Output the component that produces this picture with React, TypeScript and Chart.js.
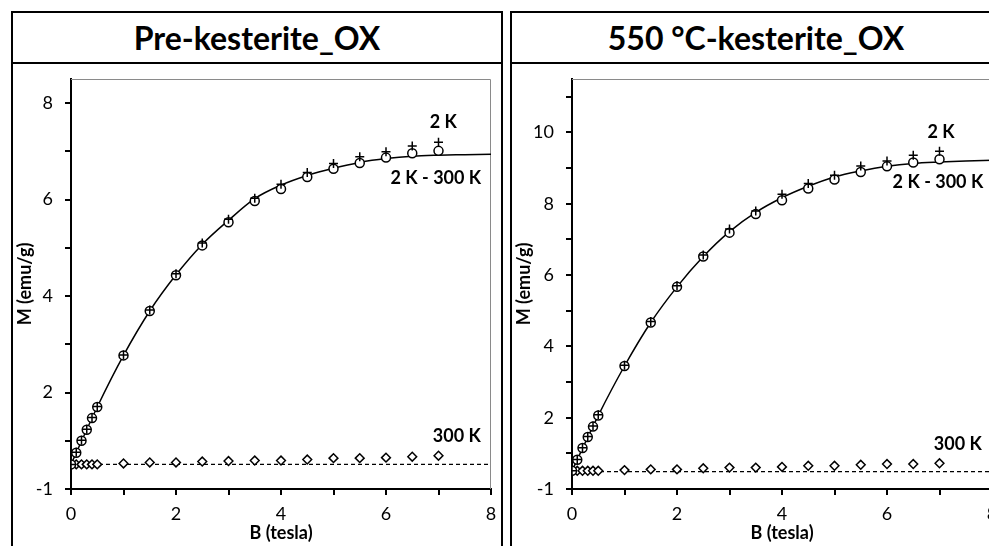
import React, { useEffect, useRef } from "react";
import { Chart, registerables } from "chart.js";

Chart.register(...registerables);

// ---------- data ----------
const fieldB = [0, 0.1, 0.2, 0.3, 0.4, 0.5, 1, 1.5, 2, 2.5, 3, 3.5, 4, 4.5, 5, 5.5, 6, 6.5, 7];
const fitB = [0, 0.5, 1, 1.5, 2, 2.5, 3, 3.5, 4, 4.5, 5, 5.5, 6, 6.5, 7, 7.5, 8];
const baseB = [0, 8];

const preTitle = "Pre-kesterite_OX";
const pre2K = [0.51, 0.76, 1.01, 1.24, 1.48, 1.71, 2.78, 3.71, 4.46, 5.1, 5.59, 6.03, 6.32, 6.56, 6.75, 6.89, 6.99, 7.11, 7.19];
const preDiff = [0.51, 0.75, 1.0, 1.23, 1.47, 1.7, 2.77, 3.69, 4.43, 5.05, 5.53, 5.97, 6.22, 6.47, 6.64, 6.76, 6.87, 6.96, 7.01];
const pre300K = [0.51, 0.51, 0.51, 0.51, 0.51, 0.51, 0.53, 0.55, 0.55, 0.57, 0.58, 0.59, 0.59, 0.61, 0.64, 0.64, 0.65, 0.67, 0.69];
const preFit = [0.51, 1.7, 2.77, 3.69, 4.44, 5.07, 5.57, 6.02, 6.3, 6.5, 6.65, 6.77, 6.85, 6.9, 6.92, 6.93, 6.94];
const preBase = [0.51, 0.51];
const preYTicks = [0, 1, 2, 3, 4, 5, 6, 7, 8];
const preYMax = 8.5;

const kesTitle = "550 °C-kesterite_OX";
const kes2K = [0.51, 0.83, 1.16, 1.47, 1.77, 2.08, 3.47, 4.7, 5.7, 6.56, 7.29, 7.8, 8.27, 8.57, 8.8, 9.06, 9.2, 9.36, 9.47];
const kesDiff = [0.51, 0.82, 1.15, 1.46, 1.75, 2.06, 3.45, 4.67, 5.67, 6.52, 7.19, 7.71, 8.1, 8.43, 8.68, 8.89, 9.05, 9.16, 9.25];
const kes300K = [0.51, 0.51, 0.51, 0.51, 0.51, 0.51, 0.53, 0.55, 0.55, 0.58, 0.6, 0.6, 0.62, 0.65, 0.65, 0.68, 0.7, 0.7, 0.72];
const kesFit = [0.51, 2.06, 3.45, 4.67, 5.67, 6.52, 7.22, 7.76, 8.17, 8.49, 8.75, 8.92, 9.05, 9.13, 9.17, 9.2, 9.22];
const kesBase = [0.49, 0.49];
const kesYTicks = [0, 1, 2, 3, 4, 5, 6, 7, 8, 9, 10, 11];
const kesYMax = 11.5;

const xTicks = [0, 1, 2, 3, 4, 5, 6, 7, 8];
const xTickLabels = ["0", "", "2", "", "4", "", "6", "", "8"];
// y tick at position 0 carries the label "-1" in the original figure
const yLabelFor = (v: number) => (v === 0 ? "-1" : v % 2 === 0 ? String(v) : "");

const seriesNames = ["2 K", "2 K - 300 K", "300 K"];
// annotation anchors in data coordinates [x, y]
const preLabelPos = [[7.09, 7.6], [6.95, 6.45], [7.35, 1.1]];
const kesLabelPos = [[7.03, 10.0], [6.97, 8.6], [7.35, 1.27]];

const FONT = "Lato, 'Open Sans', sans-serif";

const pts = (xs: number[], ys: number[]) => xs.map((x, i) => ({ x, y: ys[i] }));

function makeConfig(p: any) {
  const plotFrame = {
    id: "plotFrame",
    beforeDatasetsDraw(chart: any) {
      const { ctx, chartArea: a } = chart;
      ctx.save();
      ctx.strokeStyle = "#8a8a8a";
      ctx.lineWidth = 1;
      ctx.beginPath();
      ctx.moveTo(a.left, a.top + 0.5);
      ctx.lineTo(a.right - 0.5, a.top + 0.5);
      ctx.lineTo(a.right - 0.5, a.bottom);
      ctx.stroke();
      ctx.restore();
    },
  };
  const seriesLabels = {
    id: "seriesLabels",
    afterDatasetsDraw(chart: any) {
      const { ctx } = chart;
      const xs = chart.scales.x;
      const ys = chart.scales.y;
      ctx.save();
      ctx.fillStyle = "#000";
      ctx.font = `bold 18px ${FONT}`;
      ctx.textAlign = "center";
      ctx.textBaseline = "middle";
      seriesNames.forEach((t, i) => {
        const [lx, ly] = p.labelPos[i];
        ctx.fillText(t, xs.getPixelForValue(lx), ys.getPixelForValue(ly));
      });
      ctx.restore();
    },
  };
  const marker = {
    showLine: false,
    borderColor: "#000",
    pointBorderColor: "#000",
    pointBorderWidth: 1.5,
    pointBackgroundColor: "#fff",
  };
  return {
    type: "scatter",
    data: {
      datasets: [
        { ...marker, label: "2 K", data: pts(fieldB, p.s2K), pointStyle: "cross", pointRadius: 4.5 },
        { ...marker, label: "2 K - 300 K", data: pts(fieldB, p.diff), pointStyle: "circle", pointRadius: 4.5 },
        { ...marker, label: "300 K", data: pts(fieldB, p.s300), pointStyle: "rectRot", pointRadius: 4.4 },
        {
          label: "fit",
          data: pts(fitB, p.fit),
          showLine: true,
          borderColor: "#000",
          borderWidth: 1.5,
          pointRadius: 0,
          cubicInterpolationMode: "monotone",
        },
        {
          label: "base",
          data: pts(baseB, p.base),
          showLine: true,
          borderColor: "#000",
          borderWidth: 1.3,
          borderDash: [4, 3],
          pointRadius: 0,
        },
      ],
    },
    options: {
      animation: false,
      responsive: false,
      maintainAspectRatio: false,
      layout: { padding: { top: 15, right: p.padRight, left: 0, bottom: 0 } },
      plugins: { legend: { display: false }, tooltip: { enabled: false } },
      scales: {
        x: {
          type: "linear",
          min: 0,
          max: 8,
          afterFit: (s: any) => {
            s.height = 57;
            s.paddingLeft = 0;
            s.paddingRight = 0;
          },
          afterBuildTicks: (s: any) => {
            s.ticks = xTicks.map((v) => ({ value: v }));
          },
          border: { display: true, color: "#000", width: 2 },
          grid: { drawOnChartArea: false, drawTicks: true, tickLength: 6, color: "#000", lineWidth: 2 },
          ticks: {
            autoSkip: false,
            maxRotation: 0,
            padding: 8,
            color: "#000",
            font: { family: FONT, size: 18 },
            callback: (v: number) => xTickLabels[xTicks.indexOf(v)] ?? "",
          },
          title: {
            display: true,
            text: "B (tesla)",
            color: "#000",
            font: { family: FONT, size: 18, weight: "bold" },
            padding: { top: 0, bottom: 2 },
          },
        },
        y: {
          type: "linear",
          min: 0,
          max: p.yMax,
          afterFit: (s: any) => {
            s.width = p.yWidth;
            s.paddingTop = 0;
            s.paddingBottom = 0;
          },
          afterBuildTicks: (s: any) => {
            s.ticks = p.yTicks.map((v: number) => ({ value: v }));
          },
          border: { display: true, color: "#000", width: 2 },
          grid: { drawOnChartArea: false, drawTicks: true, tickLength: 6, color: "#000", lineWidth: 2 },
          ticks: {
            autoSkip: false,
            padding: 12,
            color: "#000",
            font: { family: FONT, size: 18 },
            callback: (v: number) => yLabelFor(v),
          },
          title: {
            display: true,
            text: "M (emu/g)",
            color: "#000",
            font: { family: FONT, size: 18, weight: "bold" },
            padding: { top: p.titlePad, bottom: 0 },
          },
        },
      },
    },
    plugins: [plotFrame, seriesLabels],
  };
}

function Panel(props: { left: number; title: string; cfg: any }) {
  const ref = useRef<HTMLCanvasElement>(null);
  useEffect(() => {
    const chart = new Chart(ref.current as HTMLCanvasElement, makeConfig(props.cfg) as any);
    return () => chart.destroy();
  }, []);
  return (
    <>
      <div
        style={{
          position: "absolute",
          left: props.left,
          top: 11,
          width: 492,
          height: 600,
          boxSizing: "border-box",
          border: "2px solid #000",
        }}
      >
        <div
          style={{
            height: 49,
            borderBottom: "2px solid #000",
            display: "flex",
            alignItems: "center",
            justifyContent: "center",
            fontFamily: FONT,
            fontWeight: 700,
            fontSize: 32,
            color: "#000",
            boxSizing: "content-box",
          }}
        >
          {props.title}
        </div>
      </div>
      <canvas
        ref={ref}
        width={488}
        height={482}
        style={{ position: "absolute", left: props.left + 2, top: 64, width: 488, height: 482 }}
      />
    </>
  );
}

export default function App() {
  const pre = {
    s2K: pre2K,
    diff: preDiff,
    s300: pre300K,
    fit: preFit,
    base: preBase,
    yTicks: preYTicks,
    yMax: preYMax,
    labelPos: preLabelPos,
    yWidth: 58,
    padRight: 10,
    titlePad: 1,
  };
  const kes = {
    s2K: kes2K,
    diff: kesDiff,
    s300: kes300K,
    fit: kesFit,
    base: kesBase,
    yTicks: kesYTicks,
    yMax: kesYMax,
    labelPos: kesLabelPos,
    yWidth: 60,
    padRight: 8,
    titlePad: 1,
  };
  return (
    <div
      style={{
        position: "fixed",
        left: 0,
        top: 0,
        width: 989,
        height: 546,
        overflow: "hidden",
        background: "#fff",
      }}
    >
      <Panel left={11} title={preTitle} cfg={pre} />
      <Panel left={510} title={kesTitle} cfg={kes} />
    </div>
  );
}
